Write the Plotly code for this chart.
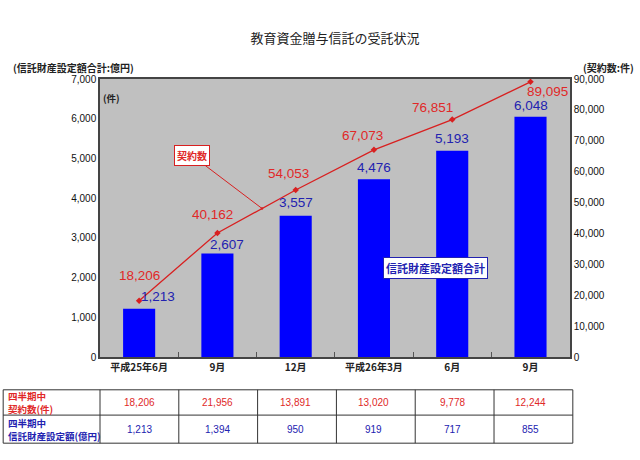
import plotly.graph_objects as go

# --- data ---
categories = ["平成25年6月", "9月", "12月", "平成26年3月", "6月", "9月 "]
amount_total = [1213, 2607, 3557, 4476, 5193, 6048]          # 信託財産設定額合計 (億円)
contracts_total = [18206, 40162, 54053, 67073, 76851, 89095]  # 契約数 (件)
quarter_contracts = [18206, 21956, 13891, 13020, 9778, 12244]
quarter_amount = [1213, 1394, 950, 919, 717, 855]
row_labels = [("四半期中", "契約数(件)"), ("四半期中", "信託財産設定額(億円)")]

# label nudges in px (dx, dy up)
red_shift = [(0, 25), (-5, 18), (-7, 17), (-11, 14), (-20, 12), (17, -10)]
blue_shift = [(19, 12), (10, 9), (0, 13), (0, 12), (0, 12), (0, 11)]

FONT = "Noto Sans CJK JP"
NUM_FONT = "Liberation Sans"
RED = "#e02828"
BLUE = "#2222b0"

fig = go.Figure()

fig.add_trace(go.Bar(
    x=categories, y=amount_total,
    marker=dict(color="#0000ff", line=dict(width=0)),
    width=0.41, yaxis="y", hoverinfo="x+y",
))
fig.add_trace(go.Scatter(
    x=categories, y=contracts_total, yaxis="y2",
    mode="lines+markers",
    line=dict(color="#d82020", width=1.3),
    marker=dict(symbol="diamond", size=5, color="#d82020"),
))

ann = []
for i, c in enumerate(categories):
    ann.append(dict(x=c, y=contracts_total[i], xref="x", yref="y2",
                    text=f"{contracts_total[i]:,}", showarrow=False,
                    xshift=red_shift[i][0], yshift=red_shift[i][1],
                    font=dict(family=NUM_FONT, size=13.5, color=RED)))
    ann.append(dict(x=c, y=amount_total[i], xref="x", yref="y",
                    text=f"{amount_total[i]:,}", showarrow=False,
                    xshift=blue_shift[i][0], yshift=blue_shift[i][1],
                    font=dict(family=NUM_FONT, size=13.5, color=BLUE)))

# callout boxes
mid_y = contracts_total[1] + 0.57 * (contracts_total[2] - contracts_total[1])
ann.append(dict(x=1.57, y=mid_y, xref="x", yref="y2",
                text="<b>契約数</b>", showarrow=True, ax=-70, ay=-53,
                arrowhead=6, arrowsize=0.6, arrowwidth=1, arrowcolor="#d82020",
                bgcolor="white", bordercolor="#d82020", borderwidth=1, borderpad=2,
                font=dict(family=FONT, size=10, color=RED)))
ann.append(dict(x=3.78, y=2250, xref="x", yref="y",
                text="<b>信託財産設定額合計</b>", showarrow=False,
                bgcolor="white", bordercolor="#2222b0", borderwidth=1, borderpad=2,
                font=dict(family=FONT, size=11, color=BLUE)))

# in-plot unit + axis captions
ann.append(dict(x=0.003, y=0.93, xref="paper", yref="paper", text="<b>(件)</b>",
                showarrow=False, xanchor="left", yanchor="middle",
                font=dict(family=FONT, size=9.5, color="#222")))
ann.append(dict(x=-0.19, y=1.04, xref="paper", yref="paper", text="<b>(信託財産設定額合計:億円)</b>",
                showarrow=False, xanchor="left", yanchor="middle",
                font=dict(family=FONT, size=10, color="#222")))
ann.append(dict(x=1.14, y=1.04, xref="paper", yref="paper", text="<b>(契約数:件)</b>",
                showarrow=False, xanchor="right", yanchor="middle",
                font=dict(family=FONT, size=10, color="#222")))

# table below the chart
t_top, t_mid, t_bot, t_left = -0.118, -0.209, -0.31, -0.206
shapes = []
for yy in (t_top, t_mid, t_bot):
    shapes.append(dict(type="line", xref="paper", yref="paper", x0=t_left, x1=1.006,
                       y0=yy, y1=yy, line=dict(color="#333", width=1)))
for k in range(len(categories) + 1):
    xx = k / len(categories) * 1.006
    shapes.append(dict(type="line", xref="paper", yref="paper", x0=xx, x1=xx,
                       y0=t_top, y1=t_bot, line=dict(color="#333", width=1)))
shapes.append(dict(type="line", xref="paper", yref="paper", x0=t_left, x1=t_left,
                   y0=t_top, y1=t_bot, line=dict(color="#333", width=1)))

row_mids = [(t_top + t_mid) / 2, (t_mid + t_bot) / 2]
for (line1, line2), ym, col in zip(row_labels, row_mids, (RED, BLUE)):
    for txt, dy in ((line1, 6.5), (line2, -6.5)):
        ann.append(dict(x=t_left + 0.006, y=ym, yshift=dy, xref="paper", yref="paper",
                        text=f"<b>{txt}</b>", showarrow=False,
                        xanchor="left", yanchor="middle",
                        font=dict(family=FONT, size=9.5, color=col)))
for i, c in enumerate(categories):
    ann.append(dict(x=c, y=row_mids[0], xref="x", yref="paper",
                    text=f"{quarter_contracts[i]:,}", showarrow=False, yanchor="middle",
                    font=dict(family=NUM_FONT, size=10, color=RED)))
    ann.append(dict(x=c, y=row_mids[1], xref="x", yref="paper",
                    text=f"{quarter_amount[i]:,}", showarrow=False, yanchor="middle",
                    font=dict(family=NUM_FONT, size=10, color=BLUE)))

fig.update_layout(
    width=640, height=460,
    margin=dict(l=100, r=70, t=79, b=103),
    paper_bgcolor="white", plot_bgcolor="#c0c0c0",
    showlegend=False,
    title=dict(text="教育資金贈与信託の受託状況", x=0.5, xref="paper", y=0.917, yanchor="middle",
               font=dict(family=FONT, size=13, color="#222")),
    xaxis=dict(type="category", showline=True, linecolor="#444", linewidth=1.5, mirror=True,
               ticks="inside", tickson="boundaries", ticklen=5, tickcolor="#555",
               tickvals=categories, ticktext=[f"<b>{c.strip()}</b>" for c in categories],
               tickfont=dict(family=FONT, size=10, color="#222"), showgrid=False),
    yaxis=dict(range=[0, 7000], dtick=1000, tickformat=",", showgrid=False, zeroline=False,
               showline=True, linecolor="#444", linewidth=1.5, ticks="",
               tickfont=dict(family=NUM_FONT, size=10, color="#111")),
    yaxis2=dict(range=[0, 90000], dtick=10000, tickformat=",", overlaying="y", side="right",
                showgrid=False, zeroline=False, showline=True, linecolor="#444", linewidth=1.5,
                tickfont=dict(family=NUM_FONT, size=10, color="#111")),
    annotations=ann, shapes=shapes,
)

fig.write_html("out.html", config={"displayModeBar": False},
               post_script="document.body.style.margin='0';")
